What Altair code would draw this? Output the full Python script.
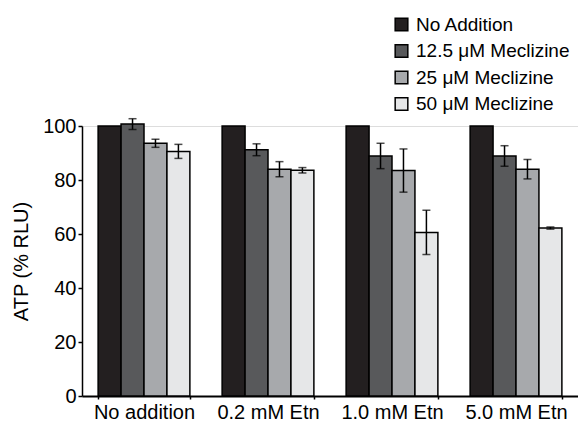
import altair as alt
import pandas as pd

groups = ["No addition", "0.2 mM Etn", "1.0 mM Etn", "5.0 mM Etn"]
series = ["No Addition", "12.5 μM Meclizine", "25 μM Meclizine", "50 μM Meclizine"]
colors = ["#231f20", "#58595b", "#a7a9ac", "#e6e7e8"]

values = {
    "No addition": [100, 100.7, 93.6, 90.6],
    "0.2 mM Etn": [100, 91.2, 84.0, 83.6],
    "1.0 mM Etn": [100, 88.9, 83.5, 60.6],
    "5.0 mM Etn": [100, 88.9, 84.0, 62.2],
}
errors = {
    "No addition": [0, 2.0, 1.5, 2.6],
    "0.2 mM Etn": [0, 2.2, 2.8, 1.0],
    "1.0 mM Etn": [0, 4.7, 8.0, 8.2],
    "5.0 mM Etn": [0, 3.8, 3.6, 0.4],
}

rows = []
for g in groups:
    for i, s in enumerate(series):
        v = values[g][i]
        e = errors[g][i]
        rows.append({"group": g, "series": s, "value": v, "lo": v - e, "hi": v + e, "err": e})
df = pd.DataFrame(rows)

FONT = "Liberation Sans"

x_enc = alt.X("group:N", sort=groups, title=None,
              scale=alt.Scale(paddingInner=0.26, paddingOuter=0.13),
              axis=alt.Axis(labelAngle=0, labelFontSize=20, labelFont=FONT, labelColor="black",
                            labelPadding=3, domainColor="black", domainWidth=2,
                            tickColor="black", tickSize=3, tickWidth=1.5, tickBand="extent"))
xoff = alt.XOffset("series:N", sort=series, scale=alt.Scale(paddingInner=0, paddingOuter=0))

bars = alt.Chart(df).mark_bar(stroke="black", strokeWidth=1.5).encode(
    x=x_enc,
    xOffset=xoff,
    y=alt.Y("value:Q", title="ATP (% RLU)",
            scale=alt.Scale(domain=[0, 100], nice=False),
            axis=alt.Axis(values=[0, 20, 40, 60, 80, 100], grid=False, labelFontSize=20,
                          labelFont=FONT, labelColor="black", titleFont=FONT, titleFontSize=20,
                          titleFontWeight="normal", titleColor="black", titlePadding=11,
                          domainColor="black", domainWidth=1.5, tickColor="black",
                          tickSize=4, tickWidth=1.5, labelPadding=2)),
    fill=alt.Fill("series:N", sort=series,
                  scale=alt.Scale(domain=series, range=colors),
                  legend=alt.Legend(title=None, orient="none", legendX=310, legendY=-111,
                                    symbolType="square", symbolSize=160,
                                    symbolStrokeColor="black", symbolStrokeWidth=1.5,
                                    labelFontSize=19, labelFont=FONT, labelColor="black",
                                    rowPadding=6.5, labelOffset=5)),
)

err = df[df["err"] > 0]
rules = alt.Chart(err).mark_rule(color="black", strokeWidth=1.5).encode(
    x=alt.X("group:N", sort=groups),
    xOffset=xoff,
    y="lo:Q",
    y2="hi:Q",
)
caps_hi = alt.Chart(err).mark_tick(color="black", thickness=1.5, size=8, orient="horizontal").encode(
    x=alt.X("group:N", sort=groups),
    xOffset=xoff,
    y="hi:Q",
)
caps_lo = alt.Chart(err).mark_tick(color="black", thickness=1.5, size=8, orient="horizontal").encode(
    x=alt.X("group:N", sort=groups),
    xOffset=xoff,
    y="lo:Q",
)

chart = alt.layer(bars, rules, caps_hi, caps_lo).properties(
    width=496, height=270,
    autosize=alt.AutoSizeParams(type="none"),
    padding={"left": 74, "top": 118, "right": 0, "bottom": 28},
).configure_view(stroke=None).configure(background="white")

chart.save("out.html", embed_options={"renderer": "svg", "actions": False})
